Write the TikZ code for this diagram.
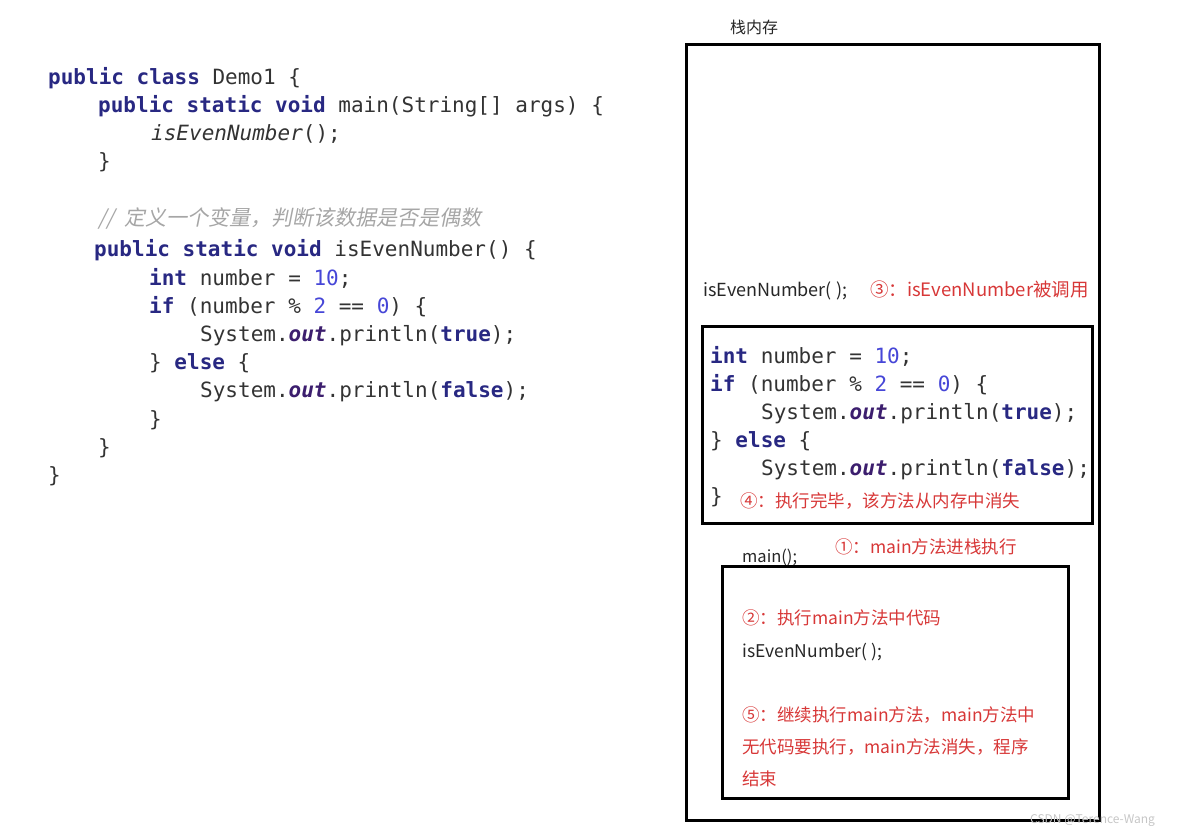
\documentclass[tikz,border=0pt]{standalone}
\usepackage{fontspec}
\usepackage{xcolor}
\newfontfamily\cjk{Noto Sans CJK SC}
\newfontfamily\cjkit{Noto Sans CJK SC}[FakeSlant=0.2]
\newfontfamily\code{DejaVu Sans Mono}
\definecolor{kwblue}{RGB}{40,40,130}
\definecolor{numblue}{RGB}{70,70,215}
\definecolor{outpurple}{RGB}{60,30,110}
\definecolor{notered}{RGB}{215,55,55}
\newcommand{\kw}[1]{\textbf{\color{kwblue}#1}}
\newcommand{\nm}[1]{{\color{numblue}#1}}
\newcommand{\ot}[1]{\textbf{\textit{\color{outpurple}#1}}}
\tikzset{
  java/.style={anchor=base west, inner sep=0pt, font=\code\fontsize{21}{21}\selectfont, text=black!80},
  plain/.style={anchor=base west, inner sep=0pt, font=\cjk\fontsize{18}{18}\selectfont, text=black!85},
  note/.style={plain, text=notered},
  frame/.style={line width=3pt, black}
}
\begin{document}
\begin{tikzpicture}[x=1pt,y=-1pt]
    \useasboundingbox (0,0) rectangle (1184,835);
    % code on the left
    \node[java] (l1) at (48,84) {\kw{public} \kw{class} Demo1 \{};
    \node[java] (l2) at (98,112) {\kw{public} \kw{static} \kw{void} main(String[] args) \{};
    \node[java] (l3) at (151,140) {\textit{isEvenNumber}();};
    \node[java] (l4) at (98,168) {\}};
    \node[java, text=gray!70, font=\cjkit\fontsize{21}{21}\selectfont] (l5) at (98,225) {//\ \ 定义一个变量，判断该数据是否是偶数};
    \node[java] (l6) at (94,256) {\kw{public} \kw{static} \kw{void} isEvenNumber() \{};
    \node[java] (l7) at (149,285) {\kw{int} number = \nm{10};};
    \node[java] (l8) at (149,313) {\kw{if} (number \% \nm{2} == \nm{0}) \{};
    \node[java] (l9) at (200,341) {System.\ot{out}.println(\kw{true});};
    \node[java] (l10) at (149,369) {\} \kw{else} \{};
    \node[java] (l11) at (200,397) {System.\ot{out}.println(\kw{false});};
    \node[java] (l12) at (149,426) {\}};
    \node[java] (l13) at (98,454) {\}};
    \node[java] (l14) at (48,482) {\}};
    % stack memory
    \node[plain, font=\cjk\fontsize{16}{16}\selectfont] (title) at (730,34) {栈内存};
    \draw[frame] (686,44) rectangle (1099,820);
    \node[plain] (call) at (703,296) {isEvenNumber( );};
    \node[note, font=\cjk\fontsize{18.5}{18.5}\selectfont] (n3) at (870,296) {③：isEvenNumber被调用};
    \draw[frame] (702,326) rectangle (1092,523);
    \node[java] (s1) at (710,363) {\kw{int} number = \nm{10};};
    \node[java] (s2) at (710,391) {\kw{if} (number \% \nm{2} == \nm{0}) \{};
    \node[java] (s3) at (761,419) {System.\ot{out}.println(\kw{true});};
    \node[java] (s4) at (710,447) {\} \kw{else} \{};
    \node[java] (s5) at (761,475) {System.\ot{out}.println(\kw{false});};
    \node[java] (s6) at (710,503) {\}};
    \node[note, font=\cjk\fontsize{17.5}{17.5}\selectfont] (n4) at (740,507) {④：执行完毕，该方法从内存中消失};
    \node[plain, font=\cjk\fontsize{16.5}{16.5}\selectfont] (mainc) at (742,562) {main();};
    \node[note, font=\cjk\fontsize{17.5}{17.5}\selectfont] (n1) at (835,553) {①：main方法进栈执行};
    \draw[frame] (722,566) rectangle (1068,798);
    \node[note, font=\cjk\fontsize{17.5}{17.5}\selectfont] (n2) at (742,624) {②：执行main方法中代码};
    \node[plain, font=\cjk\fontsize{17.5}{17.5}\selectfont] (call2) at (742,657) {isEvenNumber( );};
    \node[note, font=\cjk\fontsize{17.5}{17.5}\selectfont] (n5a) at (742,721) {⑤：继续执行main方法，main方法中};
    \node[note, font=\cjk\fontsize{17.5}{17.5}\selectfont] (n5b) at (742,753) {无代码要执行，main方法消失，程序};
    \node[note, font=\cjk\fontsize{17.5}{17.5}\selectfont] (n5c) at (742,785) {结束};
    \node[plain, text=gray!45, font=\cjk\fontsize{12}{12}\selectfont] (mark) at (1030,823) {CSDN @Terence-Wang};
\end{tikzpicture}
\end{document}
